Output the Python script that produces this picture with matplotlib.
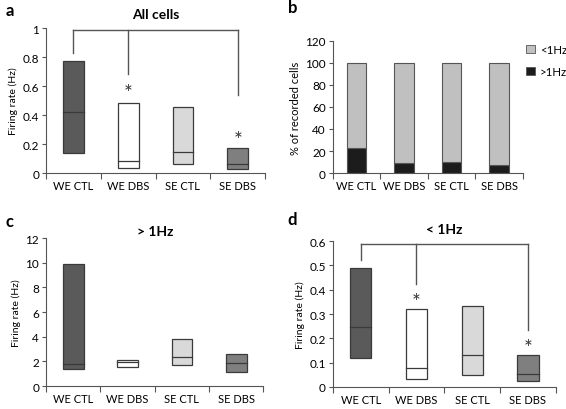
import numpy as np
import matplotlib
matplotlib.use("Agg")
from matplotlib import pyplot as plt
from matplotlib.patches import Patch

plt.rcParams['font.family'] = ['Lato', 'DejaVu Sans']

groups = ['WE CTL', 'WE DBS', 'SE CTL', 'SE DBS']
box_colors = ['#5a5a5a', '#ffffff', '#d9d9d9', '#7f7f7f']

# panel a: all cells (low, median, high)
a_low = [0.135, 0.034, 0.064, 0.025]
a_med = [0.42, 0.083, 0.142, 0.064]
a_high = [0.775, 0.486, 0.454, 0.17]

# panel b: % of recorded cells
b_above = [22.4, 8.8, 10.0, 7.0]
b_below = [100 - v for v in b_above]

# panel c: > 1Hz
c_low = [1.39, 1.52, 1.74, 1.17]
c_med = [1.82, 1.93, 2.39, 1.90]
c_high = [9.86, 2.15, 3.83, 2.61]

# panel d: < 1Hz
d_low = [0.119, 0.034, 0.048, 0.026]
d_med = [0.247, 0.078, 0.132, 0.052]
d_high = [0.488, 0.322, 0.333, 0.130]

fig = plt.figure(figsize=(5.66, 4.1), dpi=100)
axa = fig.add_axes([0.0813, 0.5756, 0.387, 0.3534])
axb = fig.add_axes([0.588, 0.5756, 0.336, 0.322])
axc = fig.add_axes([0.0813, 0.056, 0.384, 0.361])
axd = fig.add_axes([0.588, 0.0537, 0.394, 0.356])

spine_col = '#555555'


def style(ax, ylim, yticks, fmt):
    ax.set_xlim(0, 4)
    ax.set_ylim(*ylim)
    ax.set_yticks(yticks)
    ax.set_yticklabels([fmt(t) for t in yticks], fontsize=8.5)
    ax.set_xticks([0, 1, 2, 3, 4])
    ax.set_xticklabels([])
    ax.set_xticks([0.5, 1.5, 2.5, 3.5], minor=True)
    ax.set_xticklabels(groups, minor=True, fontsize=8)
    ax.tick_params(axis='x', which='minor', length=0, pad=5)
    ax.tick_params(axis='x', which='major', length=4, color=spine_col)
    ax.tick_params(axis='y', length=3, color=spine_col, pad=2)
    for s in ['top', 'right']:
        ax.spines[s].set_visible(False)
    for s in ['left', 'bottom']:
        ax.spines[s].set_color(spine_col)


def boxes(ax, low, med, high):
    x = np.arange(4) + 0.5
    w = 0.38
    h = np.array(high) - np.array(low)
    ax.bar(x, h, width=w, bottom=low, color=box_colors, edgecolor='#3a3a3a', linewidth=0.9, zorder=2)
    for xi, m in zip(x, med):
        ax.plot([xi - w / 2, xi + w / 2], [m, m], color='#3a3a3a', lw=0.9, zorder=3)


def bracket(ax, y, drops, stars):
    x = np.arange(4) + 0.5
    ax.plot([x[0], x[3]], [y, y], color='#555555', lw=1, clip_on=False)
    for i, d in drops:
        ax.plot([x[i], x[i]], [y, d], color='#555555', lw=1, clip_on=False)
    for i, s in stars:
        ax.text(x[i], s, '*', ha='center', va='center', fontsize=15, color='#333333')


# a
boxes(axa, a_low, a_med, a_high)
style(axa, (0, 1), [0, 0.2, 0.4, 0.6, 0.8, 1], lambda t: '%g' % t)
axa.set_ylabel('Firing rate (Hz)', fontsize=7.5, labelpad=3)
bracket(axa, 0.99, [(0, 0.83), (1, 0.68), (3, 0.54)], [(1, 0.55), (3, 0.225)])
axa.set_title('All cells', fontsize=10, fontweight='bold', pad=7)

# b
xb = np.arange(4) + 0.5
axb.bar(xb, b_above, width=0.41, color='#1c1c1c', edgecolor='#555555', linewidth=0.8, label='>1Hz', zorder=2)
axb.bar(xb, b_below, width=0.41, bottom=b_above, color='#c0c0c0', edgecolor='#555555', linewidth=0.8, label='<1Hz', zorder=2)
style(axb, (0, 120), [0, 20, 40, 60, 80, 100, 120], lambda t: '%d' % t)
axb.set_ylabel('% of recorded cells', fontsize=8, labelpad=3)
handles = [Patch(facecolor='#c0c0c0', edgecolor='#555555', lw=0.6),
           Patch(facecolor='#1c1c1c', edgecolor='#555555', lw=0.6)]
axb.legend(handles, ['<1Hz', '>1Hz'], loc='upper left', bbox_to_anchor=(1.0, 1.0),
           frameon=False, fontsize=8.3, handlelength=0.7, handleheight=0.7,
           handletextpad=0.45, labelspacing=0.9, borderaxespad=0.0, borderpad=0.3)

# c
boxes(axc, c_low, c_med, c_high)
style(axc, (0, 12), [0, 2, 4, 6, 8, 10, 12], lambda t: '%d' % t)
axc.set_ylabel('Firing rate (Hz)', fontsize=7.5, labelpad=3)
axc.set_title('> 1Hz', fontsize=10, fontweight='bold', pad=2)

# d
boxes(axd, d_low, d_med, d_high)
style(axd, (0, 0.6), [0, 0.1, 0.2, 0.3, 0.4, 0.5, 0.6], lambda t: '%g' % t)
axd.set_ylabel('Firing rate (Hz)', fontsize=7.5, labelpad=3)
bracket(axd, 0.587, [(0, 0.52), (1, 0.425), (3, 0.233)], [(1, 0.35), (3, 0.16)])
axd.set_title('< 1Hz', fontsize=10, fontweight='bold', pad=6)

for lbl, (x, y) in zip('abcd', [(0.01, 0.973), (0.508, 0.98), (0.01, 0.459), (0.508, 0.463)]):
    fig.text(x, y, lbl, fontsize=12, fontweight='bold', va='center', ha='left')

fig.savefig('out.png', dpi=100)
